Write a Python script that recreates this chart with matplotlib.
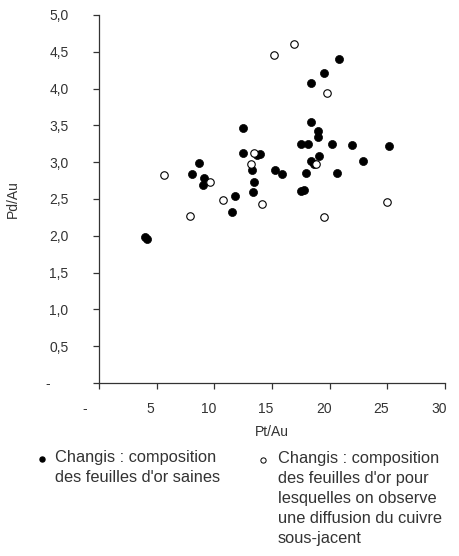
import matplotlib
matplotlib.use("Agg")
import matplotlib.pyplot as plt
import matplotlib.transforms as mtransforms
from matplotlib.lines import Line2D

plt.rcParams['font.family'] = ['Liberation Sans', 'DejaVu Sans']

# Changis : feuilles d'or saines (filled)
sain_pt = [4.0, 4.2, 8.1, 8.7, 9.1, 9.0, 11.5, 11.75, 12.45, 12.5, 13.3, 13.45, 13.35,
           13.7, 13.95, 15.25, 15.9, 17.5, 17.8, 17.55, 18.15, 17.95, 18.35, 18.4, 18.4,
           18.6, 19.0, 19.0, 19.1, 19.55, 20.2, 20.65, 20.85, 21.9, 22.85, 25.15]
sain_pd = [1.98, 1.95, 2.84, 2.99, 2.79, 2.69, 2.32, 2.54, 3.47, 3.12, 2.90, 2.73, 2.60,
           3.10, 3.11, 2.90, 2.84, 2.61, 2.62, 3.25, 3.25, 2.86, 4.08, 3.55, 3.01,
           2.97, 3.43, 3.34, 3.09, 4.21, 3.25, 2.86, 4.40, 3.24, 3.02, 3.22]

# Changis : diffusion du cuivre sous-jacent (open)
diff_pt = [5.65, 7.85, 9.65, 10.75, 13.15, 13.4, 14.1, 15.2, 16.9, 18.8, 19.55, 19.8, 25.0]
diff_pd = [2.82, 2.27, 2.73, 2.49, 2.97, 3.12, 2.43, 4.46, 4.61, 2.98, 2.26, 3.94, 2.46]

x_ticks = [0, 5, 10, 15, 20, 25, 30]
x_labels = ["-", "5", "10", "15", "20", "25", "30"]
y_ticks = [0, 0.5, 1.0, 1.5, 2.0, 2.5, 3.0, 3.5, 4.0, 4.5, 5.0]
y_labels = ["-", "0,5", "1,0", "1,5", "2,0", "2,5", "3,0", "3,5", "4,0", "4,5", "5,0"]

legend_sain = "Changis : composition\ndes feuilles d'or saines"
legend_diff = ("Changis : composition\ndes feuilles d'or pour\nlesquelles on observe\n"
               "une diffusion du cuivre\nsous-jacent")

txt = '#333333'
fig = plt.figure(figsize=(4.59, 5.56), dpi=100)
ax = fig.add_axes([99/459, 1-383/556, 346/459, 368/556])

ax.plot(sain_pt, sain_pd, linestyle='none', marker='o', markersize=5.8,
        markerfacecolor='black', markeredgecolor='black', markeredgewidth=0.5, zorder=3)
ax.plot(diff_pt, diff_pd, linestyle='none', marker='o', markersize=5.4,
        markerfacecolor='white', markeredgecolor='black', markeredgewidth=0.8, zorder=4)

ax.set_xlim(0, 30)
ax.set_ylim(0, 5)
ax.set_xticks(x_ticks)
ax.set_xticklabels(x_labels)
ax.set_yticks(y_ticks)
ax.set_yticklabels(y_labels)

for s in ['top', 'right']:
    ax.spines[s].set_visible(False)
for s in ['left', 'bottom']:
    ax.spines[s].set_color('#333333')
    ax.spines[s].set_linewidth(0.9)

ax.tick_params(axis='x', direction='out', length=4, width=0.9, color='#333333',
               labelsize=10, labelcolor=txt, pad=10)
ax.tick_params(axis='y', direction='out', length=4, width=0.9, color='#333333',
               labelsize=10, labelcolor=txt, pad=18)

# Excel accounting-format offsets
for i, lab in enumerate(ax.get_xticklabels()):
    off = mtransforms.ScaledTranslation((-14 if i == 0 else -6)/100, 0, fig.dpi_scale_trans)
    lab.set_transform(lab.get_transform() + off)
for i, lab in enumerate(ax.get_yticklabels()):
    if i == 0:
        off = mtransforms.ScaledTranslation(-18/100, 0, fig.dpi_scale_trans)
        lab.set_transform(lab.get_transform() + off)

ax.set_xlabel("Pt/Au", fontsize=10, color=txt, labelpad=6)
ax.set_ylabel("Pd/Au", fontsize=10, color=txt)
ax.yaxis.set_label_coords(-0.228, 0.5)

# Legend
fig.add_artist(Line2D([42/459], [1-459/556], transform=fig.transFigure, marker='o',
                      markersize=3.6, markerfacecolor='black', markeredgecolor='black',
                      linestyle='none'))
fig.add_artist(Line2D([263/459], [1-460/556], transform=fig.transFigure, marker='o',
                      markersize=3.8, markerfacecolor='white', markeredgecolor='black',
                      markeredgewidth=0.7, linestyle='none'))
fig.text(55/459, 1-450/556, legend_sain, fontsize=11.8, color=txt, va='top', ha='left',
         linespacing=1.42)
fig.text(278/459, 1-451/556, legend_diff, fontsize=11.8, color=txt, va='top', ha='left',
         linespacing=1.42)

fig.savefig("out.png", dpi=100)
